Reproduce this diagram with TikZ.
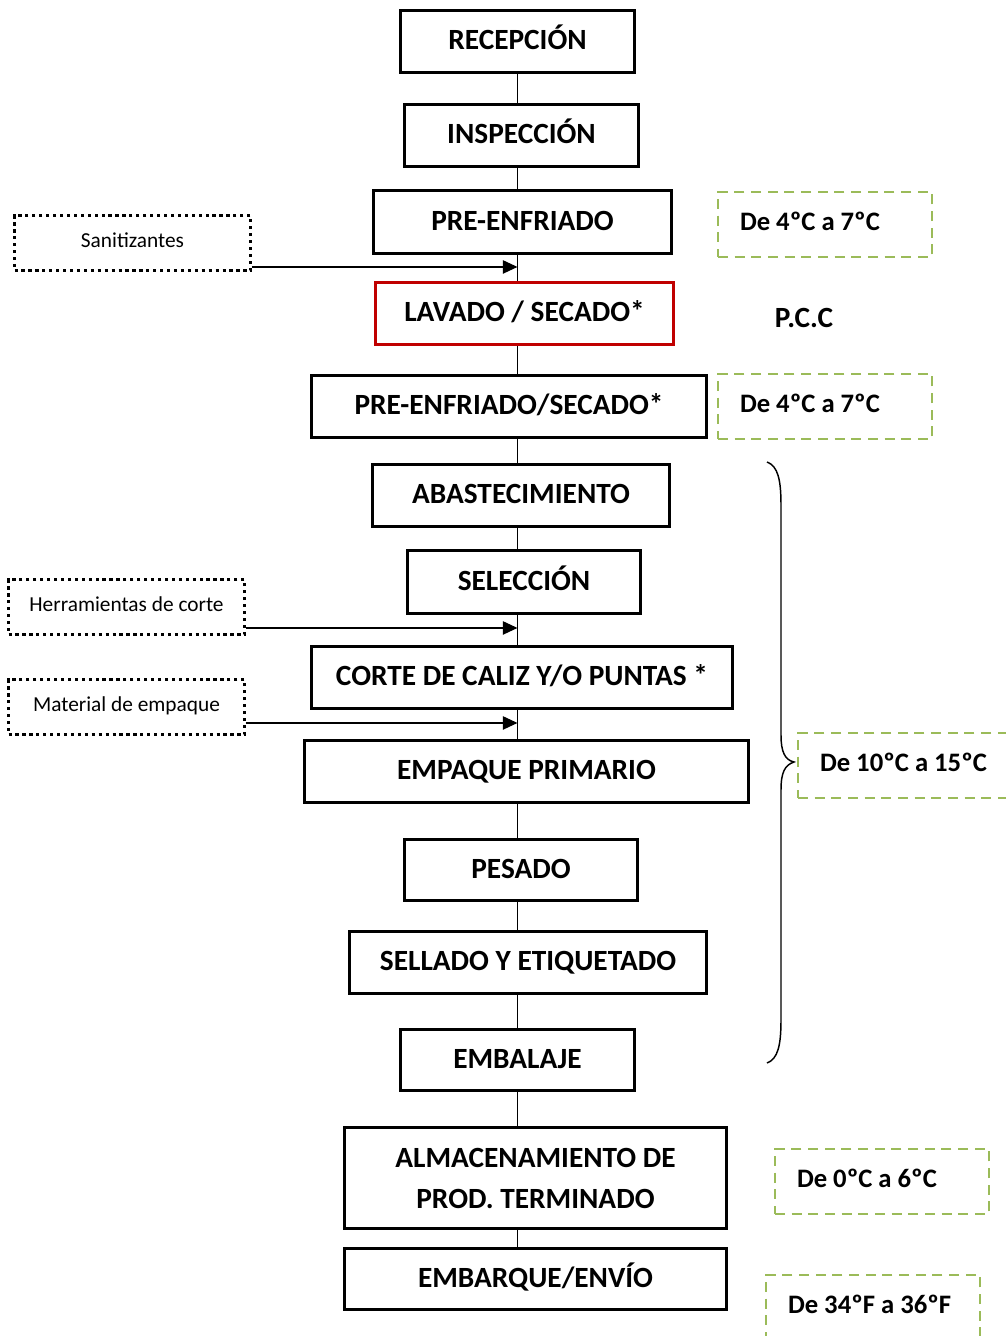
\documentclass[tikz,border=0pt]{standalone}
\usepackage{fontspec}
\setmainfont{Carlito}
\usetikzlibrary{arrows.meta}
\definecolor{pccred}{HTML}{C00000}
\definecolor{tgreen}{HTML}{9BBB59}
\tikzset{
  proc/.style={draw, line width=2.25pt, fill=white, inner sep=0pt, align=center,
    font=\fontsize{22}{30.75}\selectfont\bfseries},
  one/.style={text height=14.2pt, text depth=2.2pt},
  pcc/.style={proc, draw=pccred},
  note/.style={draw, line width=2.2pt, dash pattern=on 2.4pt off 2.8pt, inner sep=0pt,
    minimum width=177pt, minimum height=41.25pt, font=\fontsize{16}{18}\selectfont,
    text height=11pt, text depth=4pt},
  temp/.style={draw=tgreen, line width=1.6pt, dash pattern=on 7.5pt off 5pt,
    minimum height=48.75pt, inner xsep=16.5pt, inner ysep=0pt, text width=127.5pt, align=flush left,
    text height=12.9pt, text depth=4.5pt,
    font=\fontsize{20}{23}\selectfont\bfseries},
  lbl/.style={font=\fontsize{22}{26}\selectfont\bfseries, inner sep=0pt},
  conn/.style={line width=1.1pt},
  arr/.style={line width=1.1pt, -{Triangle[length=11pt,width=10pt]}}
}
\begin{document}
\begin{tikzpicture}[x=0.75pt,y=-0.75pt]
\clip (0,0) rectangle (1006,1336);
\fill[white] (0,0) rectangle (1006,1336);
\coordinate (sp) at (517.5,0);

% process boxes
\node[proc, one, minimum width=175.5pt, minimum height=46.5pt] (b1) at (517.5,41.5) {RECEPCIÓN};
\node[proc, one, minimum width=175.5pt, minimum height=46.5pt] (b2) at (521.5,135.5) {INSPECCIÓN};
\node[proc, one, minimum width=223.5pt, minimum height=47.25pt] (b3) at (522.5,222) {PRE-ENFRIADO};
\node[pcc, one, minimum width=223.5pt, minimum height=46.5pt] (b4) at (524.5,313.5) {LAVADO / SECADO*};
\node[proc, one, minimum width=296.25pt, minimum height=46.5pt] (b5) at (509,406.5) {PRE-ENFRIADO/SECADO*};
\node[proc, one, minimum width=222.75pt, minimum height=46.5pt] (b6) at (521,495.5) {ABASTECIMIENTO};
\node[proc, one, minimum width=174.75pt, minimum height=47.25pt] (b7) at (524,582) {SELECCIÓN};
\node[proc, one, minimum width=315.75pt, minimum height=46.5pt] (b8) at (522,677.5) {CORTE DE CALIZ Y/O PUNTAS *};
\node[proc, one, minimum width=333pt, minimum height=46.5pt] (b9) at (526.5,771.5) {EMPAQUE PRIMARIO};
\node[proc, one, minimum width=174.75pt, minimum height=45.75pt] (b10) at (521,870) {PESADO};
\node[proc, one, minimum width=267.75pt, minimum height=46.5pt] (b11) at (528,962.5) {SELLADO Y ETIQUETADO};
\node[proc, one, minimum width=175.5pt, minimum height=45.75pt] (b12) at (517.5,1060) {EMBALAJE};
\node[proc, minimum width=286.5pt, minimum height=75.75pt] (b13) at (535.5,1178) {ALMACENAMIENTO DE\\PROD. TERMINADO};
\node[proc, one, minimum width=286.5pt, minimum height=45.75pt] (b14) at (535.5,1279) {EMBARQUE/ENVÍO};

% spine connectors
\foreach \a/\b in {b1/b2,b2/b3,b3/b4,b4/b5,b5/b6,b6/b7,b7/b8,b8/b9,b9/b10,b10/b11,b11/b12,b12/b13,b13/b14}
  \draw[conn] (\a.south -| sp) -- (\b.north -| sp);

% input notes
\node[note] (san) at (132.5,243) {Sanitizantes};
\node[note] (her) at (126.5,607) {Herramientas de corte};
\node[note] (mat) at (126.5,707) {Material de empaque};
\coordinate (a1) at ([yshift=3.75pt]san.south east);
\coordinate (a2) at ([yshift=6pt]her.south east);
\coordinate (a3) at ([yshift=9.75pt]mat.south east);
\draw[arr] (a1) -- (a1 -| sp);
\draw[arr] (a2) -- (a2 -| sp);
\draw[arr] (a3) -- (a3 -| sp);

% temperature boxes
\node[temp] (t1) at (825,224.5) {De 4ºC a 7ºC};
\node[temp] (t2) at (825,406.5) {De 4ºC a 7ºC};
\node[temp] (t3) at (905,765.5) {De 10ºC a 15ºC};
\node[temp] (t4) at (882,1181.5) {De 0ºC a 6ºC};
\node[temp] (t5) at (873,1307.5) {De 34ºF a 36ºF};

\node[lbl] (pcclabel) at (804,318) {P.C.C};

% brace
\draw[line width=1.1pt] (767,462) .. controls (778,466) and (781,480) .. (781,505)
  -- (781,735) .. controls (781,752) and (785,760) .. (794,762)
  .. controls (785,765) and (781,772) .. (781,790)
  -- (781,1020) .. controls (781,1045) and (778,1059) .. (767,1063);
\end{tikzpicture}
\end{document}
